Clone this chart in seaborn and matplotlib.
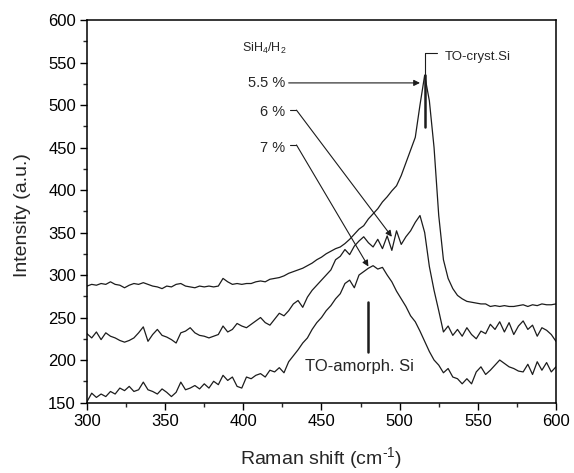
import numpy as np
import pandas as pd
import matplotlib
matplotlib.use("Agg")
import matplotlib.pyplot as plt
from matplotlib.ticker import MultipleLocator
import seaborn as sns

# Raman shift axis (cm^-1), sampled every 3 cm^-1
raman_shift = list(range(300, 601, 3))

# Intensity (a.u.) for each SiH4/H2 dilution
intensity_5_5 = [
    287, 289, 288, 290, 289, 292, 289, 288, 285, 288,
    290, 289, 291, 289, 287, 286, 284, 287, 286, 289,
    290, 287, 286, 285, 287, 286, 287, 286, 287, 296,
    292, 289, 290, 289, 290, 290, 292, 293, 292, 295,
    296, 297, 299, 302, 304, 306, 308, 311, 314, 318,
    321, 325, 328, 331, 333, 337, 342, 348, 354, 358,
    366, 372, 378, 386, 392, 399, 405, 417, 432, 447,
    462, 500, 535, 505, 450, 370, 318, 296, 284, 276,
    272, 269, 268, 267, 266, 266, 263, 264, 263, 264,
    263, 263, 264, 265, 263, 265, 264, 266, 265, 265,
    266,
]
intensity_6 = [
    231, 226, 233, 224, 232, 228, 226, 223, 221, 223,
    226, 232, 239, 222, 230, 236, 229, 227, 224, 220,
    232, 234, 238, 232, 229, 228, 226, 228, 230, 240,
    233, 236, 243, 240, 238, 242, 246, 250, 244, 241,
    248, 255, 252, 258, 266, 270, 262, 274, 282, 288,
    294, 300, 306, 318, 322, 330, 324, 334, 340, 345,
    338, 333, 342, 331, 346, 329, 352, 336, 345, 352,
    362, 370, 350, 310, 282, 258, 233, 240, 229, 236,
    228, 238, 230, 225, 234, 231, 242, 236, 245, 233,
    244, 230, 240, 246, 236, 241, 228, 238, 235, 230,
    222,
]
intensity_7 = [
    151, 161, 156, 160, 157, 163, 160, 167, 164, 169,
    163, 165, 174, 165, 163, 160, 166, 162, 157, 162,
    174, 165, 167, 170, 166, 172, 167, 175, 171, 182,
    176, 180, 169, 167, 180, 178, 182, 184, 180, 188,
    186, 191, 185, 198, 205, 212, 220, 226, 236, 244,
    250, 258, 264, 272, 278, 290, 294, 285, 300, 304,
    308, 311, 307, 309, 300, 292, 281, 272, 263, 252,
    245, 234, 222, 210, 200, 194, 185, 190, 180, 178,
    172, 178, 172, 186, 192, 183, 188, 194, 200, 196,
    192, 190, 187, 186, 195, 183, 198, 188, 197, 186,
    192,
]
series_labels = ["5.5 %", "6 %", "7 %"]

df = pd.concat(
    [
        pd.DataFrame({"shift": raman_shift, "intensity": vals, "ratio": lab})
        for lab, vals in zip(series_labels, [intensity_5_5, intensity_6, intensity_7])
    ],
    ignore_index=True,
)

sns.set_style("ticks")
plt.rcParams["font.family"] = ["Liberation Sans", "DejaVu Sans"]
plt.rcParams["mathtext.fontset"] = "custom"
plt.rcParams["mathtext.rm"] = "Liberation Sans"
plt.rcParams["mathtext.it"] = "Liberation Sans:italic"

fig = plt.figure(figsize=(5.74, 4.73), dpi=100)
ax = fig.add_axes([0.1516, 0.149, 0.817, 0.8087])

ink = "#1c1c1c"
sns.lineplot(
    data=df, x="shift", y="intensity", hue="ratio",
    palette={lab: ink for lab in series_labels},
    estimator=None, linewidth=0.9, legend=False, ax=ax,
)

ax.set_xlim(300, 600)
ax.set_ylim(150, 600)
ax.xaxis.set_major_locator(MultipleLocator(50))
ax.xaxis.set_minor_locator(MultipleLocator(25))
ax.yaxis.set_major_locator(MultipleLocator(50))
ax.yaxis.set_minor_locator(MultipleLocator(25))
ax.tick_params(which="major", direction="out", length=5, width=1.0,
               labelsize=12, colors="black", pad=3)
ax.tick_params(which="minor", direction="out", length=3, width=1.0)
for sp in ax.spines.values():
    sp.set_visible(True)
    sp.set_linewidth(1.1)
    sp.set_color("black")

ax.set_xlabel("Raman shift (cm$^{\\text{-}1}$)", fontsize=14)
ax.set_ylabel("Intensity (a.u.)", fontsize=14)
ax.xaxis.set_label_coords(0.5, -0.112)
ax.yaxis.set_label_coords(-0.12, 0.49)

# Dilution legend text and pointers
label_x = 427
label_y = {"5.5 %": 526, "6 %": 492, "7 %": 450}
kink = {"6 %": (430, 494, 434, 494), "7 %": (430, 453, 434, 453)}
tips = {"5.5 %": (513, 526), "6 %": (495, 345), "7 %": (480, 310)}

ax.text(399, 567, "SiH$_4$/H$_2$", fontsize=9, va="center", ha="left")
for lab in series_labels:
    ax.text(label_x, label_y[lab], lab, fontsize=10.5, ha="right", va="center")
    arrow = dict(arrowstyle="-|>", color=ink, lw=0.8, mutation_scale=9,
                 shrinkA=0, shrinkB=0)
    if lab in kink:
        x0, y0, x1, y1 = kink[lab]
        ax.plot([x0, x1], [y0, y1], color=ink, lw=0.8)
        ax.annotate("", xy=tips[lab], xytext=(x1, y1), arrowprops=arrow)
    else:
        ax.annotate("", xy=tips[lab], xytext=(label_x + 2, label_y[lab]),
                    arrowprops=arrow)

# Crystalline TO phonon marker
cryst_x = 516
ax.plot([cryst_x, cryst_x], [561, 535], color=ink, lw=0.8)
ax.plot([cryst_x, cryst_x], [535, 474], color=ink, lw=1.8)
ax.plot([cryst_x, cryst_x + 8], [561, 561], color=ink, lw=0.8)
ax.text(529, 557, "TO-cryst.Si", fontsize=9.5, ha="left", va="center")

# Amorphous TO phonon marker
amor_x = 480
ax.plot([amor_x, amor_x], [268, 210], color=ink, lw=1.8)
ax.text(474, 192, "TO-amorph. Si", fontsize=12, ha="center", va="center")

fig.savefig("out.png", dpi=100)
